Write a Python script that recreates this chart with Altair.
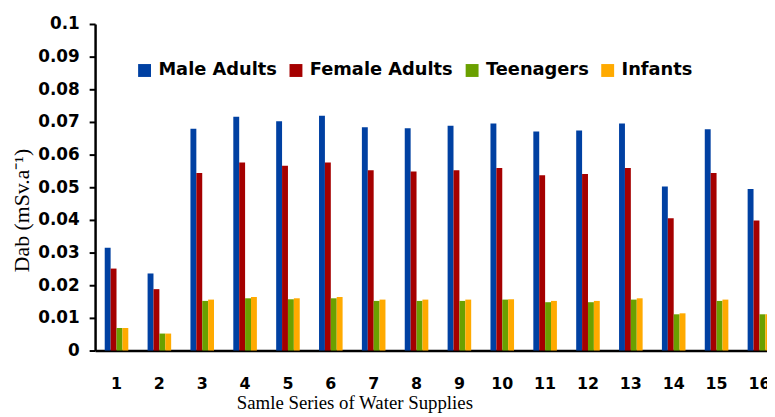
import altair as alt
import pandas as pd

samples = [str(i) for i in range(1, 17)]
groups = ["Male Adults", "Female Adults", "Teenagers", "Infants"]
male = [0.0315, 0.0236, 0.0679, 0.0716, 0.0702, 0.0719, 0.0684, 0.0681,
        0.0688, 0.0695, 0.0671, 0.0674, 0.0695, 0.0502, 0.0678, 0.0495]
female = [0.0251, 0.0188, 0.0544, 0.0576, 0.0566, 0.0576, 0.0552, 0.0548,
          0.0552, 0.0559, 0.0537, 0.0541, 0.0559, 0.0405, 0.0544, 0.0398]
teen = [0.0069, 0.0052, 0.0152, 0.0160, 0.0157, 0.0160, 0.0152, 0.0152,
        0.0152, 0.0156, 0.0148, 0.0148, 0.0156, 0.0111, 0.0152, 0.0111]
infant = [0.0069, 0.0052, 0.0156, 0.0164, 0.0160, 0.0164, 0.0156, 0.0156,
          0.0156, 0.0157, 0.0152, 0.0152, 0.0160, 0.0114, 0.0156, 0.0111]
colors = ["#0040A2", "#A50000", "#6AA000", "#FFAA00"]

rows = []
for series, vals in zip(groups, [male, female, teen, infant]):
    for s, v in zip(samples, vals):
        rows.append({"sample": s, "group": series, "value": v})
df = pd.DataFrame(rows)

LBL = "DejaVu Sans"

chart = alt.Chart(df).mark_bar().encode(
    x=alt.X("sample:N", sort=samples,
            scale=alt.Scale(range=[0, 693], paddingInner=0.45, paddingOuter=0.225),
            axis=alt.Axis(title="Samle Series of Water Supplies", labelAngle=0,
                          ticks=False, labelPadding=25, domainColor="black",
                          domainWidth=2.5, labelFont=LBL, labelFontWeight="bold",
                          labelFontSize=16, labelColor="black",
                          titleFont="Liberation Serif", titleFontWeight="normal",
                          titleFontSize=19, titleColor="black", titlePadding=3,
                          titleX=262, titleAnchor="start", titleAlign="center")),
    xOffset=alt.XOffset("group:N", sort=groups, scale=alt.Scale(paddingInner=0, paddingOuter=0)),
    y=alt.Y("value:Q", scale=alt.Scale(domain=[0, 0.1], nice=False),
            axis=alt.Axis(title="Dab (mSv.a⁻¹)", values=[i / 100 for i in range(11)],
                          format="~g", grid=False, domainColor="black", domainWidth=2.5,
                          tickColor="black", tickSize=6, tickWidth=2, labelPadding=10,
                          labelFont=LBL, labelFontWeight="bold", labelFontSize=17,
                          labelColor="black", titleFont="Liberation Serif",
                          titleFontWeight="normal", titleFontSize=22, titleColor="black",
                          titlePadding=4, titleY=188, titleAlign="center")),
    color=alt.Color("group:N", sort=groups,
                    scale=alt.Scale(domain=groups, range=colors),
                    legend=alt.Legend(title=None, orient="none", direction="horizontal",
                                      legendX=41, legendY=38, symbolType="square",
                                      symbolSize=170, symbolStrokeWidth=0,
                                      labelFont=LBL, labelFontWeight="bold",
                                      labelFontSize=18, labelColor="black",
                                      columnPadding=10, labelOffset=5)),
).properties(
    width=679, height=330,
    autosize=alt.AutoSizeParams(type="none"),
    padding={"left": 88, "top": 14, "right": 0, "bottom": 65},
).configure_view(stroke=None)

chart.save("out.html", embed_options={"renderer": "svg", "actions": False})
